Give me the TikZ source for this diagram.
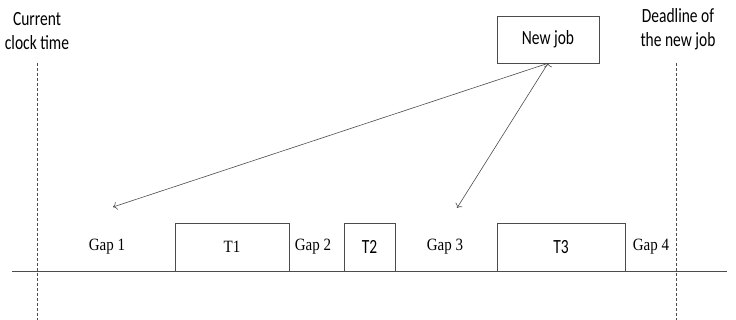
\documentclass[tikz,border=0pt]{standalone}
\usepackage{graphicx}
\usepackage{fontspec}
\setmainfont{Liberation Serif}
\newfontfamily\calibri{Carlito}
\usetikzlibrary{arrows.meta}

% the labels of the drawing are set a little taller than wide
\newcommand{\tallsans}[1]{\scalebox{1}[1.3]{#1}}
\newcommand{\tallserif}[1]{\scalebox{1}[1.15]{#1}}

\begin{document}
\begin{tikzpicture}[x=1pt, y=-1pt,
    job/.style={rectangle, draw=black!70, line width=0.6pt, inner sep=0, minimum height=48pt},
    sans/.style={font=\calibri\fontsize{15.5}{24}\selectfont, align=center},
    serif/.style={font=\fontsize{15}{18}\selectfont},
    line/.style={draw=black!70, line width=0.6pt}]
\useasboundingbox (0,0) rectangle (736,320);

% time axis and the two limits
\coordinate (start) at (12,271);
\coordinate (stop) at (727,271);
\path[line] (start) -- (stop);
\node[sans] at (37,31) (now){\tallsans{Current}\\\tallsans{clock time}};
\node[sans] at (678,29) (deadline){\tallsans{Deadline of}\\\tallsans{the new job}};
\coordinate (nowtop) at (37,63);
\coordinate (nowbot) at (37,320);
\coordinate (deadtop) at (676,63);
\coordinate (deadbot) at (676,320);
\path[line, dash pattern=on 3pt off 2pt]
    (nowtop) -- (nowbot)
    (deadtop) -- (deadbot);

% tasks already placed and the gaps between them
\node[job, serif, minimum width=114pt] at (232,247) (t1){\tallserif{T1}};
\node[job, sans, minimum width=51pt] at (369.5,247) (t2){\tallsans{T2}};
\node[job, sans, minimum width=128pt] at (561,247) (t3){\tallsans{T3}};
\node[serif] at (107,247) (gap1){\tallserif{Gap 1}};
\node[serif] at (313,247) (gap2){\tallserif{Gap 2}};
\node[serif] at (445,247) (gap3){\tallserif{Gap 3}};
\node[serif] at (651,247) (gap4){\tallserif{Gap 4}};

% the new job and where it may go
\node[job, sans, minimum width=102pt, minimum height=47pt] at (548,39.5) (new){\tallsans{New job}};
\coordinate (into1) at (113,207);
\coordinate (into3) at (457,208);
\path[-{To[length=4pt, width=8pt]}, line]
    (new.south) edge (into1)
    (new.south) edge (into3);

\end{tikzpicture}
\end{document}
